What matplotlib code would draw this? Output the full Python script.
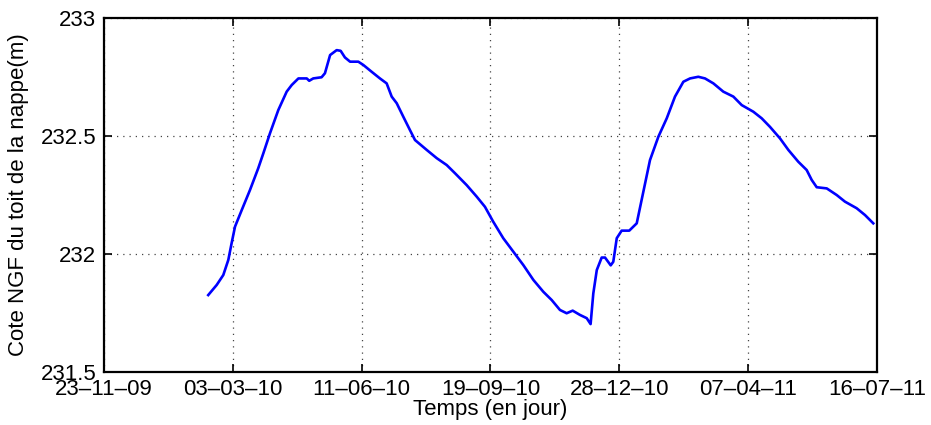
import datetime as dt
import matplotlib
matplotlib.use("Agg")
import matplotlib.pyplot as plt

# piezometric level, days counted from 23-11-2009
jours = [80.9, 87.5, 92.6, 96.5, 99.1, 101.7, 106.9, 113.3, 119.7, 123.7,
         128.8, 135.3, 141.8, 145.7, 150.9, 157.4, 159.3, 162.4, 168.9, 171.5,
         175.5, 180.6, 183.7, 187.0, 191.0, 197.4, 201.3, 207.8, 214.2, 219.4,
         223.3, 227.2, 232.3, 237.5, 241.4, 250.5, 258.3, 266.0, 272.5, 281.5,
         289.3, 295.7, 302.1, 309.9, 317.7, 325.5, 333.3, 341.0, 347.5, 353.9,
         359.1, 363.8, 369.4, 374.7, 377.7, 379.8, 382.5, 386.3, 388.9, 393.3,
         395.3, 398.0, 401.8, 407.7, 413.5, 417.3, 423.8, 430.3, 436.8, 443.2,
         449.7, 454.9, 461.3, 466.5, 473.0, 480.7, 488.5, 495.0, 504.0, 510.5,
         516.9, 524.7, 531.2, 538.9, 545.4, 549.3, 553.2, 561.0, 568.7, 575.1,
         584.2, 590.7, 597.1]
cote = [231.826, 231.869, 231.911, 231.975, 232.047, 232.116, 232.186, 232.271, 232.363, 232.427,
        232.511, 232.610, 232.688, 232.716, 232.744, 232.744, 232.734, 232.744, 232.749, 232.766,
        232.843, 232.864, 232.861, 232.833, 232.815, 232.815, 232.801, 232.772, 232.744, 232.723,
        232.667, 232.639, 232.582, 232.525, 232.483, 232.441, 232.406, 232.377, 232.342, 232.292,
        232.243, 232.200, 232.137, 232.067, 232.010, 231.953, 231.890, 231.840, 231.805, 231.763,
        231.749, 231.760, 231.742, 231.728, 231.703, 231.833, 231.932, 231.985, 231.985, 231.952,
        231.967, 232.067, 232.099, 232.099, 232.130, 232.229, 232.398, 232.497, 232.575, 232.667,
        232.730, 232.744, 232.751, 232.744, 232.723, 232.688, 232.667, 232.631, 232.603, 232.575,
        232.539, 232.490, 232.441, 232.391, 232.356, 232.314, 232.283, 232.278, 232.250, 232.222,
        232.194, 232.165, 232.130]

debut = dt.date(2009, 11, 23)
xticks = list(range(0, 601, 100))
xlabels = [(debut + dt.timedelta(days=d)).strftime('%d\u2013%m\u2013%y') for d in xticks]
yticks = [231.5, 232, 232.5, 233]
ylabels = ['231.5', '232', '232.5', '233']

plt.rcParams['font.family'] = ['Liberation Sans', 'DejaVu Sans']

fig = plt.figure(figsize=(9.31, 4.25), dpi=100)
ax = fig.add_axes([0.1117, 0.1247, 0.8303, 0.8329])
ax.plot(jours, cote, color='#0000ff', linewidth=1.9)

ax.set_xlim(0, 600)
ax.set_ylim(231.5, 233)
ax.set_xticks(xticks)
ax.set_xticklabels(xlabels)
ax.set_yticks(yticks)
ax.set_yticklabels(ylabels)
ax.tick_params(direction='in', length=6, width=1.2, top=True, right=True,
               labelsize=16, colors='black')
ax.tick_params(axis='x', pad=5)
ax.tick_params(axis='y', pad=5.5)
ax.grid(True, linestyle=(0, (1, 4)), color='#444444', linewidth=0.9)
for s in ax.spines.values():
    s.set_linewidth(1.6)
ax.set_xlabel('Temps (en jour)', fontsize=16, labelpad=-1)
ax.set_ylabel('Cote NGF du toit de la nappe(m)', fontsize=16, labelpad=8)

fig.savefig('out.png', dpi=100)
